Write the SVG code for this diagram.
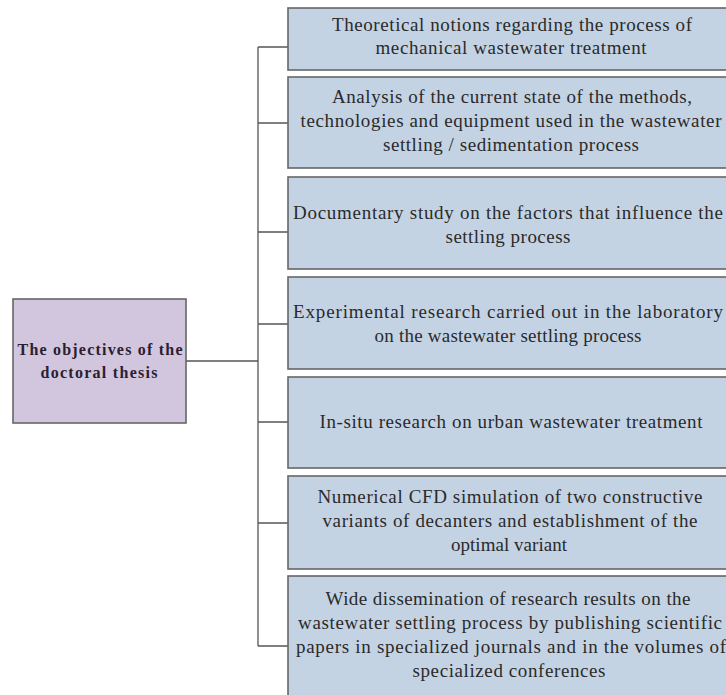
<svg xmlns="http://www.w3.org/2000/svg" width="726" height="695" viewBox="0 0 726 695">
<style>
.b{fill:#c4d3e4;stroke:#666;stroke-width:1.6}
.p{fill:#d2c6de;stroke:#666;stroke-width:1.6}
.t{font-family:"Liberation Serif","Times New Roman",serif;font-size:19px;fill:#2a2a2a;text-anchor:middle}
.tb{font-family:"Liberation Serif","Times New Roman",serif;font-size:16px;font-weight:bold;fill:#2a2030;text-anchor:middle}
.c{fill:none;stroke:#555;stroke-width:1.3}
</style>
<rect width="726" height="695" fill="#fff"/>
<g id="connectors">
<path class="c" d="M258 47V646M258 47H288M258 123H288M258 232H288M258 324H288M258 422H288M258 523H288M258 646H288M186 361H258"/>
</g>
<g id="root">
<rect class="p" x="13" y="299" width="173" height="124"/>
<text class="tb" x="100" y="355" textLength="165" lengthAdjust="spacing">The objectives of the</text>
<text class="tb" x="99" y="378" textLength="117" lengthAdjust="spacing">doctoral thesis</text>
</g>
<g id="n1">
<rect class="b" x="288" y="8" width="445" height="62"/>
<text class="t" x="512" y="31" textLength="360" lengthAdjust="spacing">Theoretical notions regarding the process of</text>
<text class="t" x="511" y="54" textLength="271" lengthAdjust="spacing">mechanical wastewater treatment</text>
</g>
<g id="n2">
<rect class="b" x="288" y="77" width="445" height="91"/>
<text class="t" x="512" y="103" textLength="360" lengthAdjust="spacing">Analysis of the current state of the methods,</text>
<text class="t" x="511" y="127" textLength="421" lengthAdjust="spacing">technologies and equipment used in the wastewater</text>
<text class="t" x="511" y="151" textLength="256" lengthAdjust="spacing">settling / sedimentation process</text>
</g>
<g id="n3">
<rect class="b" x="288" y="177" width="445" height="92"/>
<text class="t" x="508" y="219" textLength="430" lengthAdjust="spacing">Documentary study on the factors that influence the</text>
<text class="t" x="508" y="243" textLength="125" lengthAdjust="spacing">settling process</text>
</g>
<g id="n4">
<rect class="b" x="288" y="277" width="445" height="92"/>
<text class="t" x="508" y="318" textLength="430" lengthAdjust="spacing">Experimental research carried out in the laboratory</text>
<text class="t" x="508" y="342" textLength="267" lengthAdjust="spacing">on the wastewater settling process</text>
</g>
<g id="n5">
<rect class="b" x="288" y="377" width="445" height="91"/>
<text class="t" x="511" y="428" textLength="383" lengthAdjust="spacing">In-situ research on urban wastewater treatment</text>
</g>
<g id="n6">
<rect class="b" x="288" y="476" width="445" height="93"/>
<text class="t" x="510" y="503" textLength="385" lengthAdjust="spacing">Numerical CFD simulation of two constructive</text>
<text class="t" x="510" y="527" textLength="375" lengthAdjust="spacing">variants of decanters and establishment of the</text>
<text class="t" x="509" y="551" textLength="116" lengthAdjust="spacing">optimal variant</text>
</g>
<g id="n7">
<rect class="b" x="288" y="576" width="445" height="125"/>
<text class="t" x="508" y="605" textLength="365" lengthAdjust="spacing">Wide dissemination of research results on the</text>
<text class="t" x="510" y="629" textLength="424" lengthAdjust="spacing">wastewater settling process by publishing scientific</text>
<text class="t" x="511" y="653" textLength="430" lengthAdjust="spacing">papers in specialized journals and in the volumes of</text>
<text class="t" x="509" y="677" textLength="193" lengthAdjust="spacing">specialized conferences</text>
</g>
</svg>
